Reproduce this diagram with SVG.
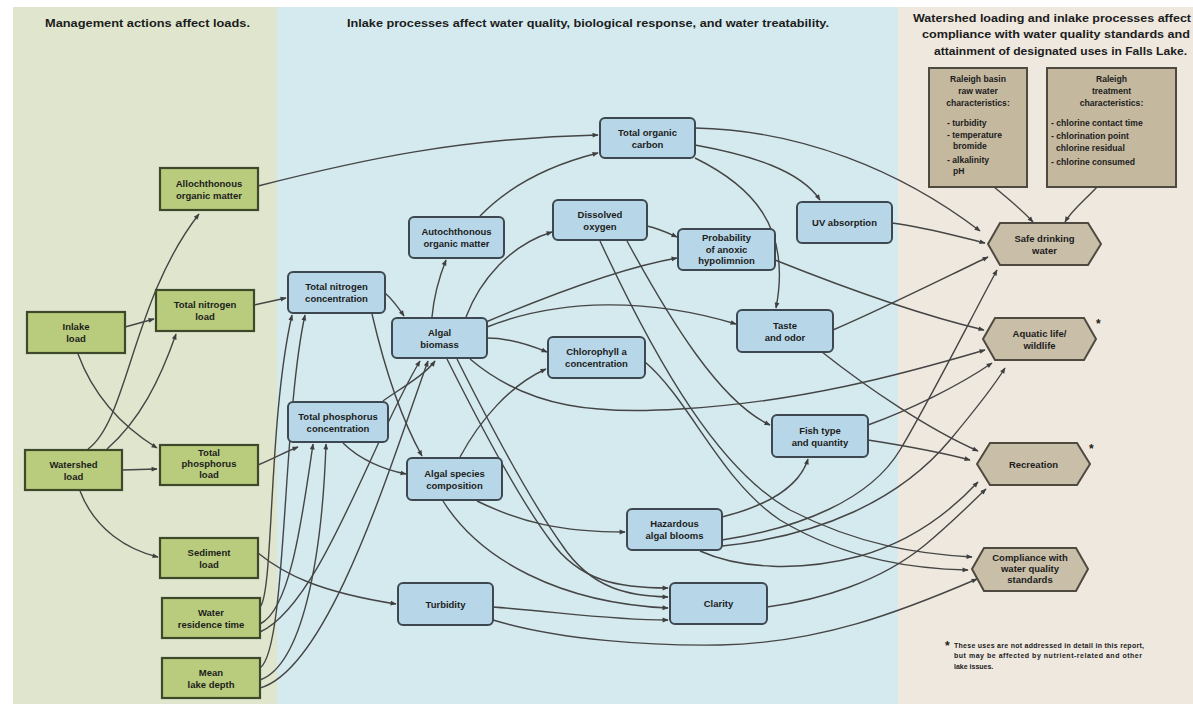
<svg xmlns="http://www.w3.org/2000/svg" width="1193" height="704" viewBox="0 0 1193 704">
<defs>
<marker id="ah" viewBox="0 0 10 10" refX="9" refY="5" markerWidth="8" markerHeight="6" markerUnits="userSpaceOnUse" orient="auto"><path d="M0,1 L10,5 L0,9 z" fill="#3f3f3f"/></marker>
<style>
text{font-family:"Liberation Sans",Arial,sans-serif;fill:#1c1c1c}
.hd{font-size:10.5px;font-weight:bold}
.nt{font-size:9.5px;font-weight:bold;text-anchor:middle}
.bt{font-size:8.6px;font-weight:bold}
.btc{font-size:8.6px;font-weight:bold;text-anchor:middle}
.fn{font-size:7px;font-weight:bold}
.ast{font-size:12px;font-weight:bold}
.g{fill:#b9cc7d;stroke:#3e482a;stroke-width:2.2}
.b{fill:#b7d7e8;stroke:#3d4850;stroke-width:2}
.t{fill:#c9bfa8;stroke:#4f4a40;stroke-width:2}
.tb{fill:#c4b89f;stroke:#4f4a40;stroke-width:2}
#connectors path{fill:none;stroke:#454545;stroke-width:1.4;marker-end:url(#ah)}
</style>
</defs>
<rect x="0" y="0" width="1193" height="704" fill="#ffffff"/>
<rect x="13" y="7" width="265" height="697" fill="#dfe6cd"/>
<rect x="277" y="7" width="622" height="697" fill="#d4eaee"/>
<rect x="898" y="7" width="295" height="697" fill="#eee8df"/>

<g id="headings">
<text class="hd" x="45" y="27" textLength="205" lengthAdjust="spacingAndGlyphs">Management actions affect loads.</text>
<text class="hd" x="347" y="27" textLength="482" lengthAdjust="spacingAndGlyphs">Inlake processes affect water quality, biological response, and water treatability.</text>
<text class="hd" x="913" y="22" textLength="278" lengthAdjust="spacingAndGlyphs">Watershed loading and inlake processes affect</text>
<text class="hd" x="922" y="38" textLength="268" lengthAdjust="spacingAndGlyphs">compliance with water quality standards and</text>
<text class="hd" x="934" y="55" textLength="253" lengthAdjust="spacingAndGlyphs">attainment of designated uses in Falls Lake.</text>
</g>

<g id="connectors">
<path d="M88,449 C128,420 132,300 199,214"/>
<path d="M107,449 C140,420 160,380 176,334"/>
<path d="M125,327 L154,319"/>
<path d="M78,354 C95,400 128,430 157,448"/>
<path d="M122,470 L157,469"/>
<path d="M80,491 C95,530 128,550 158,557"/>
<path d="M254,305 L286,298"/>
<path d="M258,465 C275,458 285,452 298,447"/>
<path d="M258,553 C285,575 320,592 396,604"/>
<path d="M260,607 C274,592 268,420 292,315"/>
<path d="M260,668 C287,650 282,420 305,315"/>
<path d="M260,624 C290,610 302,520 313,444"/>
<path d="M260,680 C302,665 322,560 326,444"/>
<path d="M260,632 C320,605 372,440 420,361"/>
<path d="M260,688 C330,668 392,460 428,361"/>
<path d="M258,186 C360,160 460,138 598,135"/>
<path d="M480,216 C510,185 550,165 598,153"/>
<path d="M432,317 C434,295 440,275 446,260"/>
<path d="M385,293 C393,300 398,307 404,316"/>
<path d="M372,314 C385,370 402,420 422,456"/>
<path d="M383,401 C398,390 425,375 435,361"/>
<path d="M343,443 C360,460 385,470 406,474"/>
<path d="M466,317 C480,280 510,245 552,232"/>
<path d="M486,322 C550,295 620,268 677,258"/>
<path d="M487,327 C560,298 650,298 736,324"/>
<path d="M487,338 C510,338 530,345 547,352"/>
<path d="M470,359 C530,410 600,414 680,409 C800,402 900,375 985,350"/>
<path d="M447,359 C480,425 520,500 550,540 C580,582 620,588 668,588"/>
<path d="M457,359 C490,425 530,500 562,545 C592,590 630,596 668,597"/>
<path d="M460,457 C480,420 510,385 546,369"/>
<path d="M477,501 C520,522 560,532 625,532"/>
<path d="M443,501 C480,560 560,603 668,608"/>
<path d="M493,607 C560,612 610,620 668,620"/>
<path d="M493,620 C560,640 650,646 720,645 C820,643 900,612 977,579"/>
<path d="M767,607 C820,600 880,582 925,545 C955,520 972,502 986,489"/>
<path d="M722,517 C770,505 800,485 808,459"/>
<path d="M722,540 C800,528 870,500 900,450 C930,400 970,320 997,270"/>
<path d="M722,546 C820,536 900,500 950,440 C975,410 994,386 1005,368"/>
<path d="M700,551 C740,569 800,572 860,556 C910,542 950,512 978,482"/>
<path d="M600,241 C660,370 720,470 790,510 C860,546 920,554 972,557"/>
<path d="M627,241 C670,320 720,402 770,425"/>
<path d="M645,362 C690,400 720,480 780,520 C850,562 920,569 968,570"/>
<path d="M647,226 C660,229 668,233 677,237"/>
<path d="M775,260 C850,290 920,315 984,330"/>
<path d="M695,128 C800,130 900,170 980,231"/>
<path d="M695,145 C750,155 800,170 820,200"/>
<path d="M695,158 C750,185 792,225 776,308"/>
<path d="M892,223 C930,228 955,236 985,243"/>
<path d="M833,330 C880,310 940,280 988,257"/>
<path d="M822,352 C870,390 930,430 978,451"/>
<path d="M868,425 C910,410 960,385 992,363"/>
<path d="M868,440 C900,445 940,452 970,460"/>
<path d="M994,187 C1010,200 1022,210 1033,222"/>
<path d="M1097,187 C1085,200 1072,210 1065,222"/>
</g>

<g id="n-allochthonous"><rect class="g" x="160" y="168" width="98" height="42"/><text class="nt" x="209" y="186.5">Allochthonous</text><text class="nt" x="209" y="198.5">organic matter</text></g>
<g id="n-inlake"><rect class="g" x="27" y="312" width="98" height="41"/><text class="nt" x="76" y="330">Inlake</text><text class="nt" x="76" y="342">load</text></g>
<g id="n-tnload"><rect class="g" x="156" y="290" width="98" height="41"/><text class="nt" x="205" y="308">Total nitrogen</text><text class="nt" x="205" y="320">load</text></g>
<g id="n-watershed"><rect class="g" x="25" y="450" width="97" height="40"/><text class="nt" x="73.5" y="467.5">Watershed</text><text class="nt" x="73.5" y="479.5">load</text></g>
<g id="n-tpload"><rect class="g" x="160" y="445" width="98" height="40"/><text class="nt" x="209" y="456">Total</text><text class="nt" x="209" y="467">phosphorus</text><text class="nt" x="209" y="478">load</text></g>
<g id="n-sediment"><rect class="g" x="160" y="538" width="98" height="40"/><text class="nt" x="209" y="555.5">Sediment</text><text class="nt" x="209" y="567.5">load</text></g>
<g id="n-residence"><rect class="g" x="162" y="598" width="98" height="40"/><text class="nt" x="211" y="615.5">Water</text><text class="nt" x="211" y="627.5">residence time</text></g>
<g id="n-depth"><rect class="g" x="162" y="658" width="98" height="40"/><text class="nt" x="211" y="675.5">Mean</text><text class="nt" x="211" y="687.5">lake depth</text></g>

<g id="n-tnconc"><rect class="b" x="288" y="272" width="97" height="41" rx="5"/><text class="nt" x="336.5" y="290">Total nitrogen</text><text class="nt" x="336.5" y="302">concentration</text></g>
<g id="n-tpconc"><rect class="b" x="288" y="402" width="100" height="40" rx="5"/><text class="nt" x="338" y="419.5">Total phosphorus</text><text class="nt" x="338" y="431.5">concentration</text></g>
<g id="n-autochthonous"><rect class="b" x="409" y="217" width="95" height="41" rx="5"/><text class="nt" x="456.5" y="235">Autochthonous</text><text class="nt" x="456.5" y="247">organic matter</text></g>
<g id="n-biomass"><rect class="b" x="392" y="318" width="95" height="40" rx="5"/><text class="nt" x="439.5" y="335.5">Algal</text><text class="nt" x="439.5" y="347.5">biomass</text></g>
<g id="n-toc"><rect class="b" x="600" y="118" width="95" height="40" rx="5"/><text class="nt" x="647.5" y="135.5">Total organic</text><text class="nt" x="647.5" y="147.5">carbon</text></g>
<g id="n-do"><rect class="b" x="553" y="200" width="94" height="40" rx="5"/><text class="nt" x="600" y="217.5">Dissolved</text><text class="nt" x="600" y="229.5">oxygen</text></g>
<g id="n-anoxic"><rect class="b" x="678" y="229" width="97" height="41" rx="5"/><text class="nt" x="726.5" y="241">Probability</text><text class="nt" x="726.5" y="252.5">of anoxic</text><text class="nt" x="726.5" y="264">hypolimnion</text></g>
<g id="n-uv"><rect class="b" x="797" y="202" width="95" height="41" rx="5"/><text class="nt" x="844.5" y="226">UV absorption</text></g>
<g id="n-taste"><rect class="b" x="737" y="310" width="96" height="42" rx="5"/><text class="nt" x="785" y="328.5">Taste</text><text class="nt" x="785" y="340.5">and odor</text></g>
<g id="n-chl"><rect class="b" x="548" y="337" width="97" height="41" rx="5"/><text class="nt" x="596.5" y="355">Chlorophyll a</text><text class="nt" x="596.5" y="367">concentration</text></g>
<g id="n-fish"><rect class="b" x="772" y="415" width="96" height="42" rx="5"/><text class="nt" x="820" y="433.5">Fish type</text><text class="nt" x="820" y="445.5">and quantity</text></g>
<g id="n-species"><rect class="b" x="407" y="458" width="95" height="42" rx="5"/><text class="nt" x="454.5" y="476.5">Algal species</text><text class="nt" x="454.5" y="488.5">composition</text></g>
<g id="n-hab"><rect class="b" x="627" y="509" width="95" height="41" rx="5"/><text class="nt" x="674.5" y="527">Hazardous</text><text class="nt" x="674.5" y="539">algal blooms</text></g>
<g id="n-turbidity"><rect class="b" x="398" y="583" width="95" height="42" rx="5"/><text class="nt" x="445.5" y="607.5">Turbidity</text></g>
<g id="n-clarity"><rect class="b" x="670" y="583" width="97" height="41" rx="5"/><text class="nt" x="718.5" y="607">Clarity</text></g>

<g id="n-raleigh-raw"><rect class="tb" x="929" y="68" width="98" height="119"/>
<text class="btc" x="978" y="82">Raleigh basin</text><text class="btc" x="978" y="94">raw water</text><text class="btc" x="978" y="106">characteristics:</text>
<text class="bt" x="947" y="126">- turbidity</text><text class="bt" x="947" y="138">- temperature</text><text class="bt" x="953" y="149">bromide</text><text class="bt" x="947" y="163">- alkalinity</text><text class="bt" x="953" y="174">pH</text></g>
<g id="n-raleigh-treat"><rect class="tb" x="1047" y="68" width="129" height="119"/>
<text class="btc" x="1111.5" y="82">Raleigh</text><text class="btc" x="1111.5" y="94">treatment</text><text class="btc" x="1111.5" y="106">characteristics:</text>
<text class="bt" x="1051" y="126">- chlorine contact time</text><text class="bt" x="1051" y="139">- chlorination point</text><text class="bt" x="1056" y="151">chlorine residual</text><text class="bt" x="1051" y="165">- chlorine consumed</text></g>

<g id="n-drinking"><polygon class="t" points="988,244 1000,223 1088,223 1101,244 1088,265 1000,265"/><text class="nt" x="1044.5" y="242">Safe drinking</text><text class="nt" x="1044.5" y="254">water</text></g>
<g id="n-aquatic"><polygon class="t" points="983,339 995,318 1084,318 1096,339 1084,360 995,360"/><text class="nt" x="1039.5" y="337">Aquatic life/</text><text class="nt" x="1039.5" y="349">wildlife</text><text class="ast" x="1096" y="328">*</text></g>
<g id="n-recreation"><polygon class="t" points="977,464 990,443 1077,443 1090,464 1077,485 990,485"/><text class="nt" x="1033.5" y="467.5">Recreation</text><text class="ast" x="1089" y="453">*</text></g>
<g id="n-compliance"><polygon class="t" points="972,569 984,548 1076,548 1088,569 1076,591 984,591"/><text class="nt" x="1030" y="561">Compliance with</text><text class="nt" x="1030" y="572">water quality</text><text class="nt" x="1030" y="583">standards</text></g>

<g id="footnote">
<text class="ast" x="945" y="650">*</text>
<text class="fn" x="954" y="648" textLength="190" lengthAdjust="spacing">These uses are not addressed in detail in this report,</text>
<text class="fn" x="954" y="658" textLength="188" lengthAdjust="spacing">but may be affected by nutrient-related and other</text>
<text class="fn" x="954" y="669">lake issues.</text>
</g>
</svg>
